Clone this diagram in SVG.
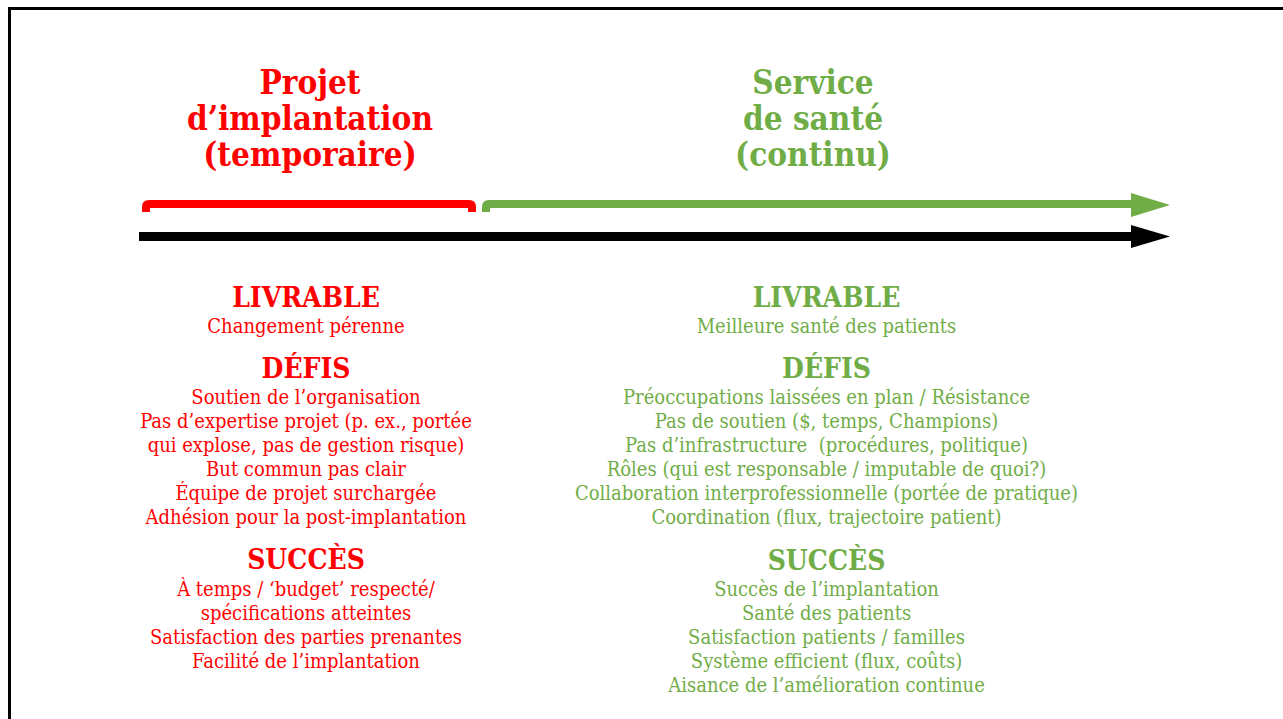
<svg xmlns="http://www.w3.org/2000/svg" width="1283" height="719" viewBox="0 0 1283 719">
<style>
text{font-family:'DejaVu Serif Condensed','DejaVu Serif',serif;font-stretch:condensed;text-anchor:middle}
.r{fill:#FF0000}
.g{fill:#70AD47}
.t{font-weight:bold;font-size:33px}
.h{font-weight:bold;font-size:28px}
.b{font-size:20px}
</style>
<rect width="1283" height="719" fill="#FFFFFF"/>
<path d="M9.5,719 V8.5 H1283" fill="none" stroke="#000" stroke-width="3"/>
<g id="title-left">
<text class="t r" x="310" y="94">Projet</text>
<text class="t r" x="310" y="130">d’implantation</text>
<text class="t r" x="310" y="166">(temporaire)</text>
</g>
<g id="title-right">
<text class="t g" x="813" y="94">Service</text>
<text class="t g" x="813" y="130">de santé</text>
<text class="t g" x="813" y="166">(continu)</text>
</g>
<g id="connectors">
<path d="M146,212 V207 Q146,204 149,204 H469 Q472,204 472,207 V212" fill="none" stroke="#FF0000" stroke-width="8"/>
<path d="M486,212 V207 Q486,204 489,204 H1132" fill="none" stroke="#70AD47" stroke-width="8"/>
<polygon points="1131,193 1170,205 1131,217" fill="#70AD47"/>
<rect x="139" y="232" width="993" height="9" fill="#000"/>
<polygon points="1131,225 1170,236.5 1131,248" fill="#000"/>
</g>
<g id="left-column">
<text class="h r" x="306" y="307">LIVRABLE</text>
<text class="b r" x="306" y="333">Changement pérenne</text>
<text class="h r" x="306" y="378">DÉFIS</text>
<text class="b r" x="306" y="404">Soutien de l’organisation</text>
<text class="b r" x="306" y="428">Pas d’expertise projet (p. ex., portée</text>
<text class="b r" x="306" y="452">qui explose, pas de gestion risque)</text>
<text class="b r" x="306" y="476">But commun pas clair</text>
<text class="b r" x="306" y="500">Équipe de projet surchargée</text>
<text class="b r" x="306" y="524">Adhésion pour la post-implantation</text>
<text class="h r" x="306" y="569">SUCCÈS</text>
<text class="b r" x="306" y="596">À temps / ‘budget’ respecté/</text>
<text class="b r" x="306" y="620">spécifications atteintes</text>
<text class="b r" x="306" y="644">Satisfaction des parties prenantes</text>
<text class="b r" x="306" y="668">Facilité de l’implantation</text>
</g>
<g id="right-column">
<text class="h g" x="826.5" y="307">LIVRABLE</text>
<text class="b g" x="826.5" y="333">Meilleure santé des patients</text>
<text class="h g" x="826.5" y="378">DÉFIS</text>
<text class="b g" x="826.5" y="404">Préoccupations laissées en plan / Résistance</text>
<text class="b g" x="826.5" y="428">Pas de soutien ($, temps, Champions)</text>
<text class="b g" x="826.5" y="452" xml:space="preserve">Pas d’infrastructure  (procédures, politique)</text>
<text class="b g" x="826.5" y="476">Rôles (qui est responsable / imputable de quoi?)</text>
<text class="b g" x="826.5" y="500">Collaboration interprofessionnelle (portée de pratique)</text>
<text class="b g" x="826.5" y="524">Coordination (flux, trajectoire patient)</text>
<text class="h g" x="826.5" y="570">SUCCÈS</text>
<text class="b g" x="826.5" y="596">Succès de l’implantation</text>
<text class="b g" x="826.5" y="620">Santé des patients</text>
<text class="b g" x="826.5" y="644">Satisfaction patients / familles</text>
<text class="b g" x="826.5" y="668">Système efficient (flux, coûts)</text>
<text class="b g" x="826.5" y="692">Aisance de l’amélioration continue</text>
</g>
</svg>
